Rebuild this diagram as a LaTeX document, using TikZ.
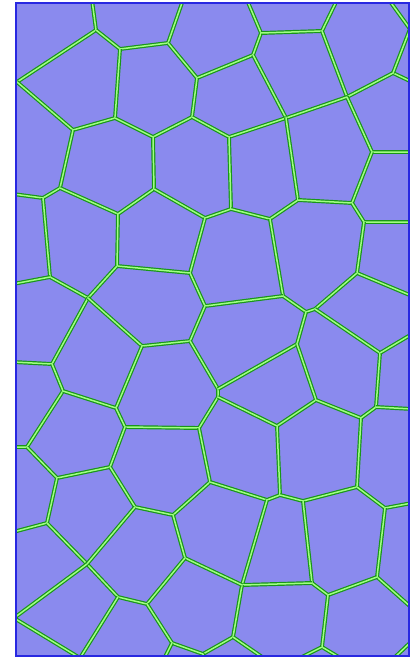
\documentclass[tikz,border=0pt]{standalone}
\definecolor{cellfill}{RGB}{138,138,238}
\definecolor{frameblue}{RGB}{40,40,225}
\definecolor{wallgreen}{RGB}{25,150,25}
\definecolor{walllight}{RGB}{160,255,130}
\tikzset{wall/.style={draw=wallgreen, line width=1.2pt, double=walllight, double distance=1.5pt, line join=round}}
\begin{document}
\begin{tikzpicture}[x=1pt,y=-1pt]
\useasboundingbox (0,0) rectangle (417,658);
\fill[cellfill] (16,3) rectangle (409,656);

\coordinate (A) at (96,30);
\coordinate (B) at (120,49);
\coordinate (C) at (17,82);
\coordinate (D) at (168,43);
\coordinate (E) at (197,78);
\coordinate (F) at (192,117);
\coordinate (G) at (115,118);
\coordinate (H) at (73,130);
\coordinate (I) at (153,137);
\coordinate (J) at (261,33);
\coordinate (K) at (322,31);
\coordinate (L) at (347,97);
\coordinate (M) at (253,55);
\coordinate (N) at (286,118);
\coordinate (O) at (393,73);
\coordinate (Q) at (229,137);
\coordinate (R) at (372,152);
\coordinate (S) at (60,188);
\coordinate (T) at (43,198);
\coordinate (U) at (118,214);
\coordinate (V) at (154,189);
\coordinate (W) at (205,218);
\coordinate (X) at (231,209);
\coordinate (Y) at (270,219);
\coordinate (Z) at (298,200);
\coordinate (AA) at (352,203);
\coordinate (AB) at (364,222);
\coordinate (AC) at (357,273);
\coordinate (AD) at (315,309);
\coordinate (AD2) at (306,312);
\coordinate (AE) at (283,296);
\coordinate (AF) at (205,306);
\coordinate (AG) at (117,266);
\coordinate (AH) at (190,273);
\coordinate (AI) at (50,277);
\coordinate (AJ) at (88,298);
\coordinate (AK) at (52,364);
\coordinate (AL) at (63,391);
\coordinate (AM) at (142,346);
\coordinate (AN) at (190,341);
\coordinate (AO) at (218,389);
\coordinate (AO2) at (218,397);
\coordinate (AP) at (116,408);
\coordinate (AQ) at (125,427);
\coordinate (AR) at (199,428);
\coordinate (AS) at (27,447);
\coordinate (AT) at (57,478);
\coordinate (AU) at (110,467);
\coordinate (AV) at (297,344);
\coordinate (AW) at (316,400);
\coordinate (AX) at (277,426);
\coordinate (AY) at (361,418);
\coordinate (AZ) at (376,407);
\coordinate (BA) at (380,353);
\coordinate (BB) at (210,482);
\coordinate (BC) at (47,523);
\coordinate (BD) at (135,507);
\coordinate (BE) at (173,515);
\coordinate (BF) at (267,500);
\coordinate (BG) at (280,495);
\coordinate (BH) at (303,501);
\coordinate (BI) at (357,487);
\coordinate (BJ) at (385,508);
\coordinate (BL) at (242,585);
\coordinate (BM) at (312,583);
\coordinate (BN) at (328,595);
\coordinate (BO) at (377,577);
\coordinate (BP) at (322,647);
\coordinate (BQ) at (233,637);
\coordinate (BS) at (185,558);
\coordinate (BT) at (147,604);
\coordinate (BU) at (118,597);
\coordinate (BV) at (87,564);
\coordinate (BW) at (172,643);
\coordinate (BX) at (203,654);

\begin{scope}
\clip (16,3) rectangle (409,656);
\draw[wall] (92,0) -- (A) -- (C) -- (14,80);
\draw[wall] (A) -- (B) -- (D) -- (183,0);
\draw[wall] (D) -- (E) -- (M) -- (J) -- (247,0);
\draw[wall] (J) -- (K) -- (337,0);
\draw[wall] (K) -- (L) -- (O) -- (412,82);
\draw[wall] (O) -- (410,29) -- (389,0);
\draw[wall] (M) -- (N) -- (L) -- (R) -- (412,152);
\draw[wall] (B) -- (G) -- (H) -- (C);
\draw[wall] (G) -- (I) -- (F) -- (E);
\draw[wall] (F) -- (Q) -- (N);
\draw[wall] (H) -- (S) -- (T) -- (13,194);
\draw[wall] (S) -- (U) -- (V) -- (I);
\draw[wall] (V) -- (W) -- (X) -- (Q);
\draw[wall] (X) -- (Y) -- (Z) -- (N);
\draw[wall] (Z) -- (AA) -- (R);
\draw[wall] (AA) -- (AB) -- (412,222);
\draw[wall] (AB) -- (AC) -- (412,296);
\draw[wall] (AC) -- (AD) -- (AD2) -- (AE) -- (Y);
\draw[wall] (AE) -- (AF) -- (AH) -- (W);
\draw[wall] (AH) -- (AG) -- (U);
\draw[wall] (AG) -- (AJ) -- (AI) -- (T);
\draw[wall] (AI) -- (13,284);
\draw[wall] (AJ) -- (AK) -- (13,362);
\draw[wall] (AK) -- (AL) -- (AS) -- (13,447);
\draw[wall] (AJ) -- (AM) -- (AN) -- (AF);
\draw[wall] (AM) -- (AP) -- (AL);
\draw[wall] (AP) -- (AQ) -- (AR) -- (AO2) -- (AO) -- (AN);
\draw[wall] (AO) -- (AV) -- (AD2);
\draw[wall] (AV) -- (AW) -- (AX) -- (AO2);
\draw[wall] (AW) -- (AY) -- (AZ) -- (BA) -- (AD);
\draw[wall] (BA) -- (412,334);
\draw[wall] (AZ) -- (412,409);
\draw[wall] (AS) -- (AT) -- (AU) -- (AQ);
\draw[wall] (AT) -- (BC) -- (13,532);
\draw[wall] (AU) -- (BD) -- (BE) -- (BB) -- (AR);
\draw[wall] (BB) -- (BF) -- (BG) -- (AX);
\draw[wall] (BG) -- (BH) -- (BI) -- (AY);
\draw[wall] (BI) -- (BJ) -- (412,503);
\draw[wall] (BJ) -- (BO) -- (412,608);
\draw[wall] (BH) -- (BM) -- (BN) -- (BO);
\draw[wall] (BF) -- (BL) -- (BM);
\draw[wall] (298,659) -- (BP) -- (342,659);
\draw[wall] (BN) -- (BP);
\draw[wall] (BL) -- (BQ) -- (BX);
\draw[wall] (BQ) -- (265,659);
\draw[wall] (BL) -- (BS) -- (BE);
\draw[wall] (BS) -- (BT) -- (BU) -- (BV) -- (BC);
\draw[wall] (BV) -- (BD);
\draw[wall] (BV) -- (14,618) -- (80,658) -- (BU);
\draw[wall] (BT) -- (BW) -- (BX) -- (203,659);
\draw[wall] (BW) -- (164,659);
\draw[wall] (393,659) -- (412,641);
\end{scope}
\draw[frameblue, line width=1.4pt] (16,3) rectangle (409,656);
\end{tikzpicture}
\end{document}
